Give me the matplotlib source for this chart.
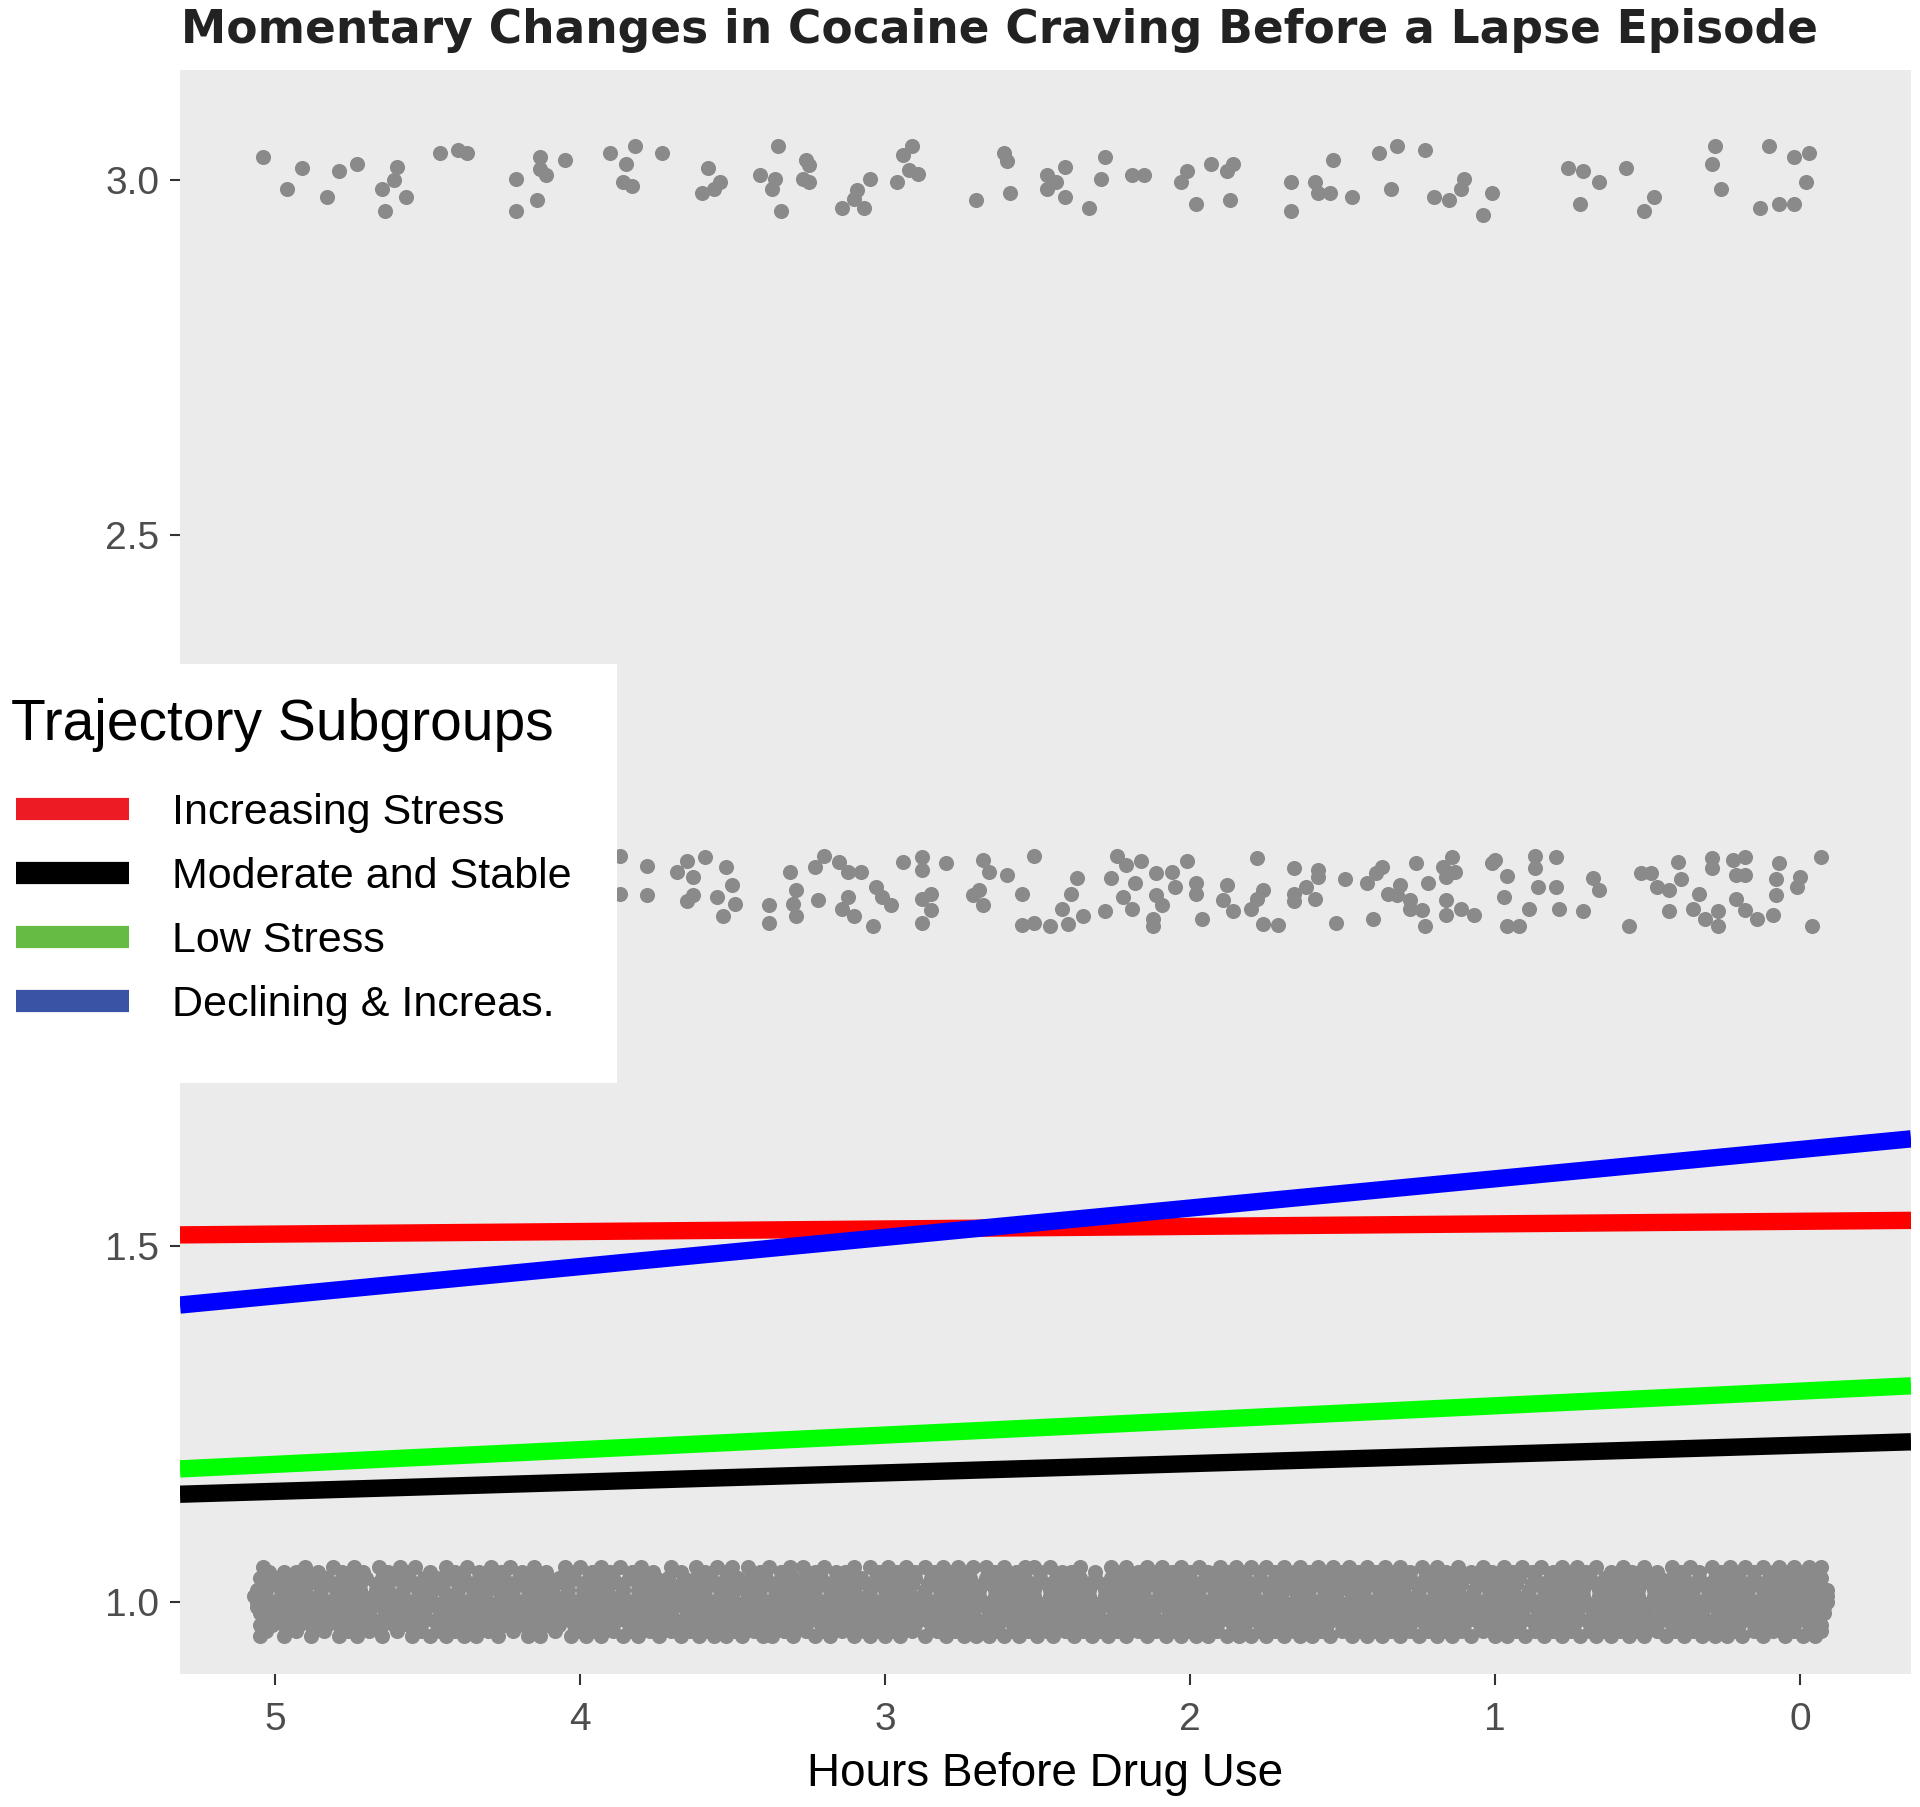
import numpy as np
import matplotlib
matplotlib.use("Agg")
import matplotlib.pyplot as plt
from matplotlib.lines import Line2D
from matplotlib.patches import Rectangle

plt.rcParams['font.family'] = ['Liberation Sans', 'DejaVu Sans']

# ---------------- data ----------------
title = "Momentary Changes in Cocaine Craving Before a Lapse Episode"
x_label = "Hours Before Drug Use"
legend_title = "Trajectory Subgroups"
groups = ["Increasing Stress", "Moderate and Stable", "Low Stress", "Declining & Increas."]
line_colors = ["#FF0000", "#000000", "#00FF00", "#0000FF"]
legend_colors = ["#ED1C24", "#000000", "#66BB44", "#3A53A4"]
# fitted craving at 5 h and at 0 h before drug use
craving_at_5h = [1.517, 1.155, 1.193, 1.430]
craving_at_0h = [1.535, 1.220, 1.296, 1.636]

x_ticks = [5, 4, 3, 2, 1, 0]
x_tick_labels = ["5", "4", "3", "2", "1", "0"]
y_ticks = [1.0, 1.5, 2.0, 2.5, 3.0]
y_tick_labels = ["1.0", "1.5", "2.0", "2.5", "3.0"]

# observed craving = 3 (jittered)
hours_c3 = [5.04, 4.91, 4.96, 4.83, 4.79, 4.73, 4.60, 4.61, 4.65, 4.57, 4.64, 4.46, 4.40, 4.37, 4.21, 4.13, 4.13, 4.11,
            4.05, 4.14, 4.21, 3.90, 3.82, 3.73, 3.85, 3.86, 3.83, 3.58, 3.54, 3.56, 3.60, 3.35, 3.26, 3.25, 3.41, 3.36,
            3.37, 3.27, 3.25, 3.34, 3.05, 3.09, 3.10, 3.14, 3.07, 2.91, 2.94, 2.92, 2.89, 2.96, 2.61, 2.60, 2.70, 2.59,
            2.47, 2.44, 2.47, 2.41, 2.41, 2.28, 2.29, 2.33, 2.19, 2.15, 2.01, 2.03, 1.93, 1.86, 1.88, 1.98, 1.87,
            1.53, 1.67, 1.67, 1.59, 1.58, 1.54, 1.47, 1.38, 1.32, 1.23, 1.34, 1.20, 1.15, 1.11, 1.10, 1.01, 1.04,
            0.76, 0.71, 0.66, 0.57, 0.72, 0.48, 0.51, 0.28, 0.29, 0.26, 0.10, 0.02, -0.03, -0.02, 0.13, 0.07, 0.02]
craving_c3 = [3.033, 3.017, 2.987, 2.977, 3.013, 3.023, 3.019, 3.000, 2.987, 2.977, 2.957, 3.038, 3.043, 3.038, 3.002,
              3.033, 3.016, 3.007, 3.028, 2.972, 2.957, 3.038, 3.048, 3.038, 3.023, 2.998, 2.992, 3.017, 2.998, 2.987,
              2.982, 3.048, 3.028, 3.021, 3.007, 3.002, 2.987, 3.002, 2.998, 2.957, 3.002, 2.986, 2.974, 2.961, 2.961,
              3.048, 3.035, 3.014, 3.008, 2.998, 3.038, 3.027, 2.972, 2.982,
              3.007, 2.998, 2.987, 3.018, 2.977, 3.033, 3.002, 2.961, 3.007, 3.007, 3.013, 2.998, 3.023, 3.023, 3.013,
              2.966, 2.972, 3.028, 2.998, 2.957, 2.998, 2.982, 2.982, 2.977, 3.038, 3.048, 3.043, 2.987, 2.977, 2.972,
              2.987, 3.002, 2.982, 2.951, 3.017, 3.013, 2.998, 3.017, 2.966, 2.977, 2.957, 3.048, 3.023, 2.987, 3.048,
              3.033, 3.038, 2.998, 2.961, 2.966, 2.966]

# observed craving = 2 (jittered; part hidden behind the legend is not shown)
hours_c2 = [3.87, 3.87, 3.78, 3.78, 3.65, 3.59, 3.68, 3.63, 3.52, 3.50, 3.55, 3.63, 3.65, 3.49, 3.53, 3.31, 3.23, 3.20,
            3.15, 3.12, 3.08, 3.29, 3.30, 3.38, 3.38, 3.29, 3.22, 3.12, 3.14, 3.10, 3.04, 3.03, 3.01, 2.98, 2.94, 2.88,
            2.88, 2.80, 2.85, 2.88, 2.85, 2.88, 2.68, 2.66, 2.60, 2.69, 2.71, 2.68, 2.55, 2.51, 2.37, 2.39, 2.42, 2.55,
            2.51, 2.46, 2.40, 2.35, 2.28, 2.24, 2.21, 2.16, 2.26, 2.22, 2.18, 2.19, 2.11, 2.06, 2.05, 2.11, 2.09, 2.12,
            2.01, 1.98, 1.98, 1.96, 2.12,
            1.88, 1.89, 1.86, 1.78, 1.76, 1.78, 1.80, 1.76, 1.71, 1.66, 1.58, 1.58, 1.62, 1.66, 1.66, 1.59, 1.49, 1.52,
            1.40, 1.42, 1.37, 1.39, 1.35, 1.31, 1.32, 1.28, 1.28, 1.24, 1.23, 1.26, 1.22, 1.17, 1.14, 1.13, 1.16, 1.16,
            1.16, 1.11, 1.07, 1.01, 1.00, 0.96, 0.97, 0.96, 0.92, 0.87, 0.87, 0.86, 0.80, 0.80, 0.89, 0.79, 0.71, 0.68,
            0.66, 0.56, 0.52, 0.49, 0.47, 0.43, 0.43, 0.40, 0.39, 0.33, 0.35, 0.31, 0.29, 0.29, 0.27, 0.27, 0.22, 0.18,
            0.21, 0.18, 0.21, 0.18, 0.14, 0.09, 0.08, 0.07, 0.08, 0.00, 0.01, -0.07, -0.04]
craving_c2 = [2.049, 1.996, 2.035, 1.994, 2.042, 2.048, 2.027, 2.020, 2.033, 2.008, 1.992, 1.994, 1.985, 1.981, 1.965,
              2.027, 2.034, 2.049, 2.041, 2.027, 2.027, 2.001, 1.982, 1.980, 1.955, 1.965, 1.987, 1.992, 1.975, 1.965,
              1.950, 2.006, 1.992, 1.980, 2.041, 2.048, 2.029, 2.039, 1.996, 1.989, 1.973, 1.955, 2.043, 2.027, 2.022,
              2.001, 1.994, 1.980, 1.996, 2.049, 2.018, 1.996, 1.975, 1.952, 1.955, 1.950, 1.954, 1.965, 1.971, 2.049,
              2.036, 2.042, 2.018, 1.992, 2.011, 1.975, 2.025, 2.027, 2.006, 1.994, 1.980, 1.960, 2.042, 2.011, 1.996,
              1.961, 1.950,
              2.008, 1.987, 1.971, 2.046, 2.001, 1.989, 1.975, 1.954, 1.952, 2.032, 2.029, 2.020, 2.006, 1.996, 1.985,
              1.989, 2.016, 1.955, 1.960, 2.011, 2.034, 2.025, 1.996, 2.008, 1.994, 1.987, 1.975, 1.973, 1.950, 2.039,
              2.011, 2.034, 2.048, 2.027, 2.020, 1.987, 1.966, 1.975, 1.966, 2.039, 2.044, 2.021, 1.991, 1.950, 1.950,
              2.049, 2.032, 2.006, 2.048, 2.006, 1.975, 1.975, 1.971, 2.018, 2.001, 1.950, 2.025, 2.025, 2.006, 2.001,
              1.971, 2.041, 2.016, 1.996, 1.975, 1.960, 2.046, 2.032, 1.971, 1.950, 2.043, 2.048, 2.022, 2.022, 1.989,
              1.973, 1.961, 1.966, 1.994, 2.039, 2.016, 2.020, 2.005, 2.048, 1.950]

# observed craving = 1: dense jittered band, read as rows of points at jitter levels
hours_c1_top = "5.04 4.90 4.81 4.74 4.66 4.59 4.54 4.44 4.37 4.29 4.23 4.15 4.05 4.00 3.93 3.87 3.80 3.70 3.62 3.55 3.50 3.45 3.38 3.31 3.27 3.20 3.10 3.05 2.99 2.93 2.87 2.81 2.76 2.71 2.67 2.61 2.54 2.51 2.46 2.36 2.26 2.21 2.14 2.09 2.03 1.97 1.90 1.85 1.80 1.75 1.69 1.64 1.58 1.53 1.48 1.42 1.36 1.31 1.24 1.19 1.12 1.04 0.97 0.91 0.85 0.78 0.73 0.67 0.58 0.51 0.42 0.36 0.29 0.23 0.18 0.12 0.07 0.02 -0.03 -0.07"
hours_c1_r1b = "5.02 4.97 4.93 4.86 4.78 4.71 4.63 4.57 4.49 4.41 4.33 4.26 4.19 4.11 4.03 3.96 3.90 3.83 3.76 3.67 3.59 3.52 3.41 3.34 3.23 3.16 3.13 3.02 2.96 2.90 2.84 2.78 2.73 2.64 2.57 2.49 2.42 2.39 2.31 2.24 2.17 2.11 2.06 2.00 1.94 1.88 1.82 1.77 1.72 1.66 1.61 1.56 1.50 1.45 1.39 1.33 1.28 1.22 1.16 1.08 1.01 0.94 0.88 0.81 0.75 0.70 0.62 0.55 0.47 0.39 0.33 0.26 0.20 0.15 0.09 0.04 -0.01 -0.05"
hours_c1_r2 = "5.05 5.01 4.96 4.92 4.88 4.83 4.78 4.74 4.70 4.65 4.61 4.56 4.51 4.47 4.43 4.38 4.33 4.29 4.25 4.20 4.15 4.11 4.07 4.02 3.97 3.93 3.89 3.84 3.79 3.75 3.71 3.66 3.62 3.57 3.52 3.48 3.44 3.39 3.34 3.30 3.26 3.21 3.16 3.12 3.08 3.03 2.98 2.94 2.90 2.85 2.80 2.76 2.72 2.67 2.62 2.58 2.54 2.49 2.44 2.40 2.36 2.31 2.26 2.22 2.18 2.13 2.08 2.04 2.00 1.95 1.90 1.86 1.82 1.77 1.72 1.68 1.64 1.59 1.54 1.50 1.46 1.41 1.36 1.32 1.28 1.23 1.18 1.14 1.10 1.05 1.00 0.96 0.92 0.87 0.82 0.78 0.74 0.69 0.64 0.60 0.56 0.51 0.46 0.42 0.38 0.33 0.28 0.24 0.20 0.15 0.10 0.06 0.02 -0.03 -0.07"
hours_c1_r2b = "5.04 4.99 4.95 4.90 4.86 4.81 4.77 4.72 4.67 4.63 4.58 4.54 4.49 4.45 4.40 4.36 4.31 4.26 4.22 4.18 4.13 4.08 4.04 3.99 3.95 3.90 3.86 3.81 3.77 3.72 3.67 3.63 3.58 3.54 3.49 3.45 3.40 3.36 3.31 3.27 3.22 3.18 3.13 3.09 3.04 3.00 2.95 2.91 2.86 2.82 2.77 2.73 2.68 2.64 2.59 2.55 2.50 2.46 2.41 2.37 2.32 2.28 2.23 2.19 2.14 2.10 2.05 2.01 1.96 1.92 1.87 1.83 1.78 1.74 1.69 1.65 1.60 1.56 1.51 1.47 1.42 1.38 1.33 1.29 1.24 1.20 1.15 1.11 1.06 1.02 0.97 0.93 0.88 0.84 0.79 0.75 0.70 0.66 0.61 0.57 0.52 0.48 0.43 0.39 0.34 0.30 0.25 0.21 0.16 0.12 0.07 0.03 -0.02 -0.06"
hours_c1_r3 = "5.06 5.03 4.98 4.94 4.90 4.85 4.80 4.76 4.72 4.67 4.63 4.58 4.53 4.49 4.45 4.40 4.35 4.31 4.27 4.22 4.17 4.13 4.09 4.04 3.99 3.95 3.91 3.86 3.81 3.77 3.73 3.68 3.64 3.59 3.54 3.50 3.46 3.41 3.36 3.32 3.28 3.23 3.18 3.14 3.10 3.05 3.00 2.96 2.92 2.87 2.82 2.78 2.74 2.69 2.64 2.60 2.56 2.51 2.46 2.42 2.38 2.33 2.28 2.24 2.20 2.15 2.10 2.06 2.02 1.97 1.92 1.88 1.84 1.79 1.74 1.70 1.66 1.61 1.56 1.52 1.48 1.43 1.38 1.34 1.30 1.25 1.20 1.16 1.12 1.07 1.02 0.98 0.94 0.89 0.84 0.80 0.76 0.71 0.66 0.62 0.58 0.53 0.48 0.44 0.40 0.35 0.30 0.26 0.22 0.17 0.12 0.08 0.04 -0.01 -0.05 -0.09"
hours_c1_r3b = "5.07 5.03 4.98 4.94 4.89 4.85 4.80 4.76 4.71 4.67 4.62 4.58 4.53 4.49 4.44 4.40 4.35 4.31 4.26 4.22 4.17 4.13 4.08 4.04 3.99 3.95 3.90 3.86 3.81 3.77 3.72 3.68 3.63 3.59 3.54 3.50 3.45 3.41 3.36 3.32 3.27 3.23 3.18 3.14 3.09 3.05 3.00 2.96 2.91 2.87 2.82 2.78 2.73 2.69 2.64 2.60 2.55 2.51 2.46 2.42 2.37 2.33 2.28 2.24 2.19 2.15 2.10 2.06 2.01 1.97 1.92 1.88 1.83 1.79 1.74 1.70 1.65 1.61 1.56 1.52 1.47 1.43 1.38 1.34 1.29 1.25 1.20 1.16 1.11 1.07 1.02 0.98 0.93 0.89 0.84 0.80 0.75 0.71 0.66 0.62 0.57 0.53 0.48 0.44 0.39 0.35 0.30 0.26 0.21 0.17 0.12 0.08 0.03 -0.01 -0.06 -0.09"
hours_c1_r4 = "5.06 5.02 4.97 4.93 4.89 4.84 4.79 4.75 4.71 4.66 4.62 4.57 4.52 4.48 4.44 4.39 4.34 4.30 4.26 4.21 4.16 4.12 4.08 4.03 3.98 3.94 3.90 3.85 3.80 3.76 3.72 3.67 3.63 3.58 3.53 3.49 3.45 3.40 3.35 3.31 3.27 3.22 3.17 3.13 3.09 3.04 2.99 2.95 2.91 2.86 2.81 2.77 2.73 2.68 2.63 2.59 2.55 2.50 2.45 2.41 2.37 2.32 2.27 2.23 2.19 2.14 2.09 2.05 2.01 1.96 1.91 1.87 1.83 1.78 1.73 1.69 1.65 1.60 1.55 1.51 1.47 1.42 1.37 1.33 1.29 1.24 1.19 1.15 1.11 1.06 1.01 0.97 0.93 0.88 0.83 0.79 0.75 0.70 0.65 0.61 0.57 0.52 0.47 0.43 0.39 0.34 0.29 0.25 0.21 0.16 0.11 0.07 0.03 -0.02 -0.06 -0.09"
hours_c1_r4b = "5.06 5.01 4.96 4.92 4.87 4.83 4.78 4.74 4.69 4.65 4.60 4.56 4.51 4.47 4.42 4.38 4.33 4.29 4.24 4.20 4.15 4.11 4.06 4.02 3.97 3.93 3.88 3.84 3.79 3.75 3.70 3.66 3.61 3.57 3.52 3.48 3.43 3.39 3.34 3.30 3.25 3.21 3.16 3.12 3.07 3.03 2.98 2.94 2.89 2.85 2.80 2.76 2.71 2.67 2.62 2.58 2.53 2.49 2.44 2.40 2.35 2.31 2.26 2.22 2.17 2.13 2.08 2.04 1.99 1.95 1.90 1.86 1.81 1.77 1.72 1.68 1.63 1.59 1.54 1.50 1.45 1.41 1.36 1.32 1.27 1.23 1.18 1.14 1.09 1.05 1.00 0.96 0.91 0.87 0.82 0.78 0.73 0.69 0.64 0.60 0.55 0.51 0.46 0.42 0.37 0.33 0.28 0.24 0.19 0.15 0.10 0.06 0.01 -0.03 -0.08"
hours_c1_r5 = "5.05 5.00 4.95 4.91 4.87 4.82 4.78 4.73 4.69 4.64 4.60 4.55 4.51 4.46 4.42 4.37 4.33 4.28 4.24 4.19 4.14 4.10 4.06 4.01 3.96 3.92 3.88 3.83 3.78 3.74 3.70 3.65 3.61 3.56 3.51 3.47 3.43 3.38 3.33 3.29 3.25 3.20 3.15 3.11 3.07 3.02 2.97 2.93 2.89 2.84 2.79 2.75 2.71 2.66 2.61 2.57 2.53 2.48 2.43 2.39 2.35 2.30 2.25 2.21 2.17 2.12 2.07 2.03 1.99 1.94 1.89 1.85 1.81 1.76 1.71 1.67 1.63 1.58 1.53 1.49 1.45 1.40 1.35 1.31 1.27 1.22 1.17 1.13 1.09 1.04 0.99 0.95 0.91 0.86 0.81 0.77 0.73 0.68 0.63 0.59 0.55 0.50 0.45 0.41 0.37 0.32 0.27 0.23 0.19 0.14 0.09 0.05 0.01 -0.04 -0.08"
hours_c1_r5b = "5.04 4.99 4.95 4.90 4.86 4.81 4.77 4.72 4.68 4.63 4.59 4.54 4.50 4.45 4.41 4.36 4.32 4.27 4.23 4.18 4.14 4.09 4.05 4.00 3.96 3.91 3.87 3.82 3.78 3.73 3.69 3.64 3.60 3.55 3.51 3.46 3.42 3.37 3.33 3.28 3.24 3.19 3.15 3.10 3.06 3.01 2.97 2.92 2.88 2.83 2.79 2.74 2.70 2.65 2.61 2.56 2.52 2.47 2.43 2.38 2.34 2.29 2.25 2.20 2.16 2.11 2.07 2.02 1.98 1.93 1.89 1.84 1.80 1.75 1.71 1.66 1.62 1.57 1.53 1.48 1.44 1.39 1.35 1.30 1.26 1.21 1.17 1.12 1.08 1.03 0.99 0.94 0.90 0.85 0.81 0.76 0.72 0.67 0.63 0.58 0.54 0.49 0.45 0.40 0.36 0.31 0.27 0.22 0.18 0.13 0.09 0.04 0.00 -0.05"
hours_c1_r6 = "5.05 5.01 4.97 4.92 4.88 4.83 4.79 4.74 4.70 4.65 4.61 4.56 4.52 4.47 4.43 4.38 4.34 4.29 4.25 4.20 4.16 4.11 4.07 4.02 3.98 3.93 3.89 3.84 3.80 3.75 3.71 3.66 3.62 3.57 3.53 3.48 3.44 3.39 3.35 3.30 3.26 3.21 3.17 3.12 3.08 3.03 2.99 2.94 2.90 2.85 2.81 2.76 2.72 2.67 2.63 2.58 2.54 2.49 2.45 2.40 2.36 2.31 2.27 2.22 2.18 2.13 2.09 2.04 2.00 1.95 1.91 1.86 1.82 1.77 1.73 1.68 1.64 1.59 1.55 1.50 1.46 1.41 1.37 1.32 1.28 1.23 1.19 1.14 1.10 1.05 1.01 0.96 0.92 0.87 0.83 0.78 0.74 0.69 0.65 0.60 0.56 0.51 0.47 0.42 0.38 0.33 0.29 0.24 0.20 0.15 0.11 0.06 0.02 -0.03 -0.07"
hours_c1_r6b = "5.03 4.93 4.84 4.76 4.69 4.60 4.52 4.46 4.41 4.36 4.30 4.22 4.15 4.08 4.00 3.95 3.89 3.83 3.77 3.70 3.64 3.58 3.54 3.49 3.43 3.38 3.33 3.26 3.20 3.14 3.07 3.02 2.97 2.91 2.83 2.77 2.72 2.68 2.63 2.58 2.53 2.47 2.41 2.35 2.29 2.24 2.17 2.11 2.05 2.00 1.96 1.91 1.86 1.82 1.77 1.72 1.66 1.62 1.57 1.50 1.44 1.39 1.34 1.28 1.22 1.16 1.11 1.04 0.98 0.93 0.87 0.81 0.75 0.69 0.64 0.59 0.53 0.47 0.41 0.35 0.30 0.26 0.21 0.15 0.09 0.02 -0.03 -0.07"
hours_c1_bottom = "5.05 4.97 4.88 4.79 4.73 4.65 4.55 4.49 4.44 4.38 4.34 4.27 4.17 4.13 4.03 3.98 3.93 3.86 3.81 3.74 3.67 3.61 3.56 3.52 3.47 3.40 3.37 3.30 3.23 3.18 3.10 3.05 3.00 2.95 2.87 2.80 2.74 2.70 2.66 2.61 2.56 2.50 2.45 2.38 2.32 2.27 2.21 2.14 2.08 2.03 1.98 1.94 1.88 1.84 1.80 1.75 1.69 1.64 1.60 1.54 1.47 1.42 1.37 1.31 1.25 1.19 1.14 1.08 1.00 0.96 0.90 0.84 0.78 0.72 0.67 0.62 0.56 0.51 0.44 0.38 0.32 0.28 0.24 0.19 0.12 0.05 -0.01 -0.05"
c1_rows = [hours_c1_top, hours_c1_r1b, hours_c1_r2, hours_c1_r2b, hours_c1_r3, hours_c1_r3b, hours_c1_r4,
           hours_c1_r4b, hours_c1_r5, hours_c1_r5b, hours_c1_r6, hours_c1_r6b, hours_c1_bottom]
c1_levels = [1.049, 1.041, 1.033, 1.025, 1.016, 1.008, 1.000, 0.992, 0.984, 0.975, 0.967, 0.959, 0.951]

# ---------------- figure ----------------
W, H = 1920, 1807
fig = plt.figure(figsize=(W / 100, H / 100), dpi=100)
ax = fig.add_axes([180 / W, 1 - 1674 / H, (1911 - 180) / W, (1674 - 70) / H])
ax.set_facecolor("#EBEBEB")
for sp in ax.spines.values():
    sp.set_visible(False)
ax.set_xlim(5.311, -0.364)
ax.set_ylim(0.898, 3.155)

point_color = "#8A8A8A"
pt_size = 118
for row, lev in zip(c1_rows, c1_levels):
    hx = np.array(row.split(), dtype=float)
    ax.scatter(hx, np.full(hx.size, lev), s=pt_size, color=point_color, linewidths=0, zorder=2)
ax.scatter(hours_c2, craving_c2, s=pt_size, color=point_color, linewidths=0, zorder=2)
ax.scatter(hours_c3, craving_c3, s=pt_size, color=point_color, linewidths=0, zorder=2)

for g, c, v5, v0 in zip(groups, line_colors, craving_at_5h, craving_at_0h):
    ax.axline((5, v5), (0, v0), color=c, lw=12.5, solid_capstyle="butt", zorder=3)

ax.set_xticks(x_ticks)
ax.set_xticklabels(x_tick_labels)
ax.set_yticks(y_ticks)
ax.set_yticklabels(y_tick_labels)
ax.tick_params(axis="x", length=8, width=1.5, color="#333333", pad=12, labelsize=28, labelcolor="#4D4D4D")
ax.tick_params(axis="y", length=7, width=1.5, color="#333333", pad=8, labelsize=28, labelcolor="#4D4D4D")

fig.text(1045.5 / W, 1 - 1786 / H, x_label, ha="center", va="baseline", fontsize=33, color="black")
fig.text(181 / W, 1 - 43 / H, title, ha="left", va="baseline", fontsize=32.8, fontweight="bold",
         family="DejaVu Sans", color="#222222")

# legend box
fig.add_artist(Rectangle((0, 1 - 1083 / H), 617 / W, (1083 - 664) / H, transform=fig.transFigure,
                         facecolor="white", edgecolor="none", zorder=4))
fig.text(11 / W, 1 - 740 / H, legend_title, ha="left", va="baseline", fontsize=41, color="black", zorder=6)
handles = [Line2D([0], [0], color=c, lw=16, solid_capstyle="butt") for c in legend_colors]
fs = 31
leg = fig.legend(handles, groups, loc="upper left", bbox_to_anchor=(16 / W, 1 - 793 / H),
                 frameon=False, fontsize=fs, handlelength=2.62, handletextpad=1.0,
                 labelspacing=0.56, borderpad=0, borderaxespad=0)
leg.set_zorder(6)

fig.savefig("out.png", dpi=100, facecolor="white")
